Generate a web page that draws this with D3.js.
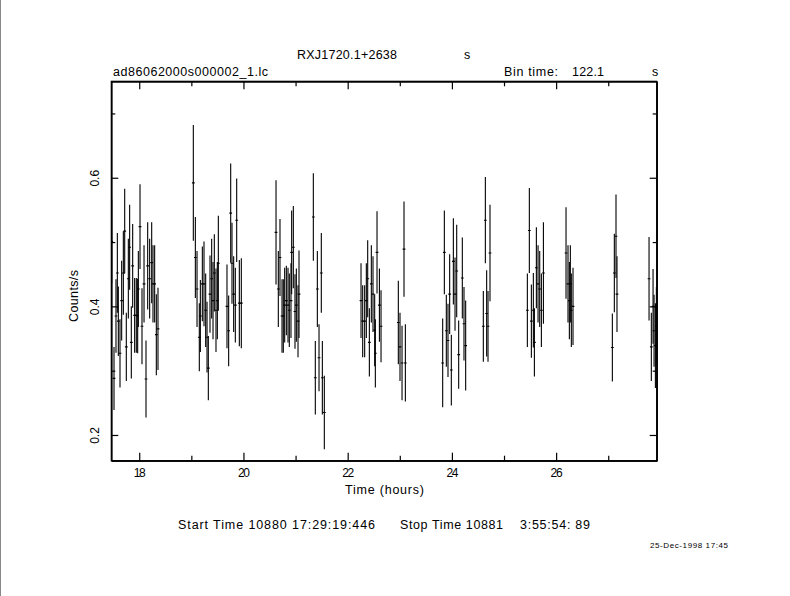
<!DOCTYPE html>
<html><head><meta charset="utf-8">
<script src="https://cdn.jsdelivr.net/npm/d3@7"></script>
<style>
body{margin:0;background:#fff;}
svg text{font-family:"Liberation Sans",Arial,sans-serif;fill:#000;}
</style></head>
<body><svg id="c" width="790" height="596"></svg>
<script>
// ---- data (time in hours, count rate in counts/s, 1-sigma error) ----
const times = [
17.471,17.516,17.554,17.580,17.599,17.631,17.663,17.695,17.721,17.752,17.791,17.816,17.848,17.874,17.912,17.944,17.970,17.983,18.015,18.053,18.092,18.130,18.162,18.200,18.239,18.264,18.296,18.328,18.360,
19.038,19.077,19.109,19.153,19.173,19.211,19.243,19.275,19.301,19.326,19.358,19.390,19.416,19.441,19.473,19.499,19.518,
19.684,19.716,19.755,19.780,19.812,19.844,19.870,19.921,19.959,
20.625,20.669,20.701,20.740,20.765,20.791,20.823,20.855,20.880,20.912,20.925,20.957,20.989,21.015,21.047,21.066,
21.341,21.379,21.418,21.450,21.494,21.514,21.552,
22.256,22.288,22.326,22.358,22.384,22.416,22.454,22.486,22.518,22.531,22.563,22.609,22.640,
22.972,23.004,23.043,23.081,23.107,
23.823,23.855,23.893,23.925,23.957,23.989,24.028,24.060,24.092,24.130,24.200,24.232,24.264,
24.603,24.642,24.667,24.693,24.731,
25.448,25.486,25.525,25.563,25.583,25.621,25.653,25.685,25.717,25.756,
26.190,26.228,26.254,26.273,26.292,26.324,
27.079,27.117,27.149,27.168,
27.783,27.827,27.860,27.879,27.905,27.924];
const rates = [
0.501,0.288,0.385,0.452,0.377,0.327,0.409,0.452,0.517,0.337,0.443,0.492,0.344,0.463,0.386,0.386,0.385,0.427,0.524,0.369,0.435,0.287,0.463,0.443,0.468,0.435,0.435,0.356,0.365,
0.592,0.476,0.427,0.352,0.385,0.435,0.435,0.394,0.352,0.304,0.419,0.443,0.409,0.452,0.394,0.409,0.467,
0.400,0.362,0.545,0.467,0.419,0.402,0.534,0.405,0.405,
0.515,0.427,0.476,0.385,0.385,0.402,0.409,0.402,0.394,0.409,0.484,0.492,0.392,0.402,0.377,0.419,
0.539,0.289,0.427,0.320,0.452,0.289,0.235,
0.409,0.377,0.377,0.409,0.443,0.344,0.435,0.419,0.363,0.327,0.484,0.402,0.369,
0.375,0.337,0.312,0.489,0.312,
0.312,0.484,0.362,0.347,0.419,0.301,0.470,0.419,0.455,0.325,0.444,0.373,0.339,
0.369,0.534,0.389,0.369,0.483,
0.394,0.518,0.377,0.394,0.344,0.460,0.435,0.427,0.394,0.452,
0.483,0.435,0.409,0.435,0.394,0.400,
0.336,0.452,0.509,0.419,
0.443,0.337,0.400,0.362,0.339,0.370];
const errors = [
0.065,0.049,0.057,0.062,0.054,0.053,0.062,0.065,0.066,0.053,0.062,0.066,0.056,0.065,0.058,0.058,0.058,0.059,0.066,0.059,0.060,0.060,0.068,0.062,0.063,0.060,0.060,0.063,0.064,
0.090,0.063,0.059,0.053,0.056,0.058,0.066,0.057,0.055,0.050,0.060,0.062,0.060,0.060,0.065,0.060,0.074,
0.065,0.055,0.077,0.063,0.059,0.058,0.065,0.067,0.070,
0.081,0.059,0.060,0.057,0.057,0.058,0.054,0.058,0.057,0.058,0.065,0.064,0.058,0.057,0.056,0.068,
0.068,0.057,0.059,0.052,0.062,0.057,0.057,
0.058,0.056,0.056,0.058,0.060,0.053,0.060,0.059,0.056,0.053,0.064,0.057,0.056,
0.065,0.053,0.058,0.074,0.060,
0.069,0.065,0.056,0.057,0.062,0.055,0.067,0.057,0.072,0.053,0.063,0.057,0.070,
0.055,0.067,0.067,0.055,0.075,
0.057,0.066,0.057,0.058,0.053,0.063,0.060,0.059,0.057,0.079,
0.071,0.060,0.060,0.060,0.057,0.060,
0.053,0.061,0.065,0.059,
0.065,0.053,0.058,0.056,0.066,0.060];
const xMajorTicks = [18,20,22,24,26];
const xMinorTicks = [19,21,23,25,27];
const yMajorTicks = [0.2,0.4,0.6];
const yMinorTicks = [0.3,0.5,0.7];
const binHours = 122.1/3600;

// ---- layout ----
const svg = d3.select("#c");
const L=111.3, R=656.7, T=81.3, B=460.7;
const x = d3.scaleLinear().domain([17.464,27.93]).range([L,R]);
const y = d3.scaleLinear().domain([0.16,0.75]).range([B,T]);

svg.append("rect").attr("width",790).attr("height",596).attr("fill","#fff");
svg.append("line").attr("x1",0.5).attr("x2",0.5).attr("y1",0).attr("y2",596).attr("stroke","#888");

svg.append("clipPath").attr("id","pc").append("rect").attr("x",L).attr("y",T).attr("width",R-L).attr("height",B-T);

function ax(gen, tr, ticks, size, labels){
  const g = svg.append("g").attr("transform",tr)
    .call(gen.tickValues(ticks).tickSizeInner(-size).tickSizeOuter(0).tickPadding(8)
      .tickFormat(labels? d3.format(".0f"):()=>""));
  g.selectAll("path,line").attr("stroke","#000").attr("stroke-width",1.2);
  g.selectAll("text").style("font-size","12px").attr("textLength",12).attr("lengthAdjust","spacing");
  return g;
}
ax(d3.axisBottom(x), `translate(0,${B})`, xMajorTicks, 8, true);
ax(d3.axisBottom(x), `translate(0,${B})`, xMinorTicks, 5, false);
ax(d3.axisTop(x), `translate(0,${T})`, xMajorTicks, 8, false);
ax(d3.axisTop(x), `translate(0,${T})`, xMinorTicks, 5, false);
const yl = svg.append("g").attr("transform",`translate(${L},0)`)
  .call(d3.axisLeft(y).tickValues(yMajorTicks).tickSizeInner(-7).tickSizeOuter(0).tickFormat(d3.format(".1f")));
yl.selectAll("path,line").attr("stroke","#000").attr("stroke-width",1.2);
yl.selectAll("text").style("font-size","12px").attr("text-anchor","middle").attr("x",0).attr("dy",0)
  .attr("transform","translate(-12,0) rotate(-90)");
const yl2 = svg.append("g").attr("transform",`translate(${L},0)`)
  .call(d3.axisLeft(y).tickValues(yMinorTicks).tickSizeInner(-4).tickSizeOuter(0).tickFormat(()=>""));
yl2.selectAll("path,line").attr("stroke","#000").attr("stroke-width",1.2);
const yr = svg.append("g").attr("transform",`translate(${R},0)`)
  .call(d3.axisRight(y).tickValues(yMajorTicks).tickSizeInner(-7).tickSizeOuter(0).tickFormat(()=>""));
yr.selectAll("path,line").attr("stroke","#000").attr("stroke-width",1.2);
const yr2 = svg.append("g").attr("transform",`translate(${R},0)`)
  .call(d3.axisRight(y).tickValues(yMinorTicks).tickSizeInner(-4).tickSizeOuter(0).tickFormat(()=>""));
yr2.selectAll("path,line").attr("stroke","#000").attr("stroke-width",1.2);
svg.append("rect").attr("x",L).attr("y",T).attr("width",R-L).attr("height",B-T)
  .attr("fill","none").attr("stroke","#000").attr("stroke-width",1.2);

// data
const data = times.map((t,i)=>({t, v:rates[i], e:errors[i]}));
const pg = svg.append("g").attr("clip-path","url(#pc)").attr("stroke","#000").attr("stroke-width",1.1);
pg.selectAll("line.eb").data(data).join("line").attr("class","eb")
  .attr("x1",d=>x(d.t)).attr("x2",d=>x(d.t)).attr("y1",d=>y(d.v-d.e)).attr("y2",d=>y(d.v+d.e));
pg.selectAll("line.bw").data(data).join("line").attr("class","bw")
  .attr("x1",d=>x(d.t-binHours/2)-0.5).attr("x2",d=>x(d.t+binHours/2)+0.5).attr("y1",d=>y(d.v)).attr("y2",d=>y(d.v));

// texts
const txt=(s,xx,yy,len,size)=>{
  const t=svg.append("text").attr("x",xx).attr("y",yy).style("font-size",(size||12.5)+"px").text(s);
  if(len) t.attr("textLength",len).attr("lengthAdjust","spacing");
  return t;
};
txt("RXJ1720.1+2638",297,59,100);
txt("s",464,59);
txt("ad86062000s000002_1.lc",113,76,155);
txt("Bin time:",504,76,54);
txt("122.1",572,76,32);
txt("s",652,76);
txt("Time (hours)",345,494,79);
txt("Start Time 10880 17:29:19:446",178,529,197);
txt("Stop Time 10881",400,529,103);
txt("3:55:54: 89",520,529,70);
txt("25-Dec-1998 17:45",650,548,78,8);
svg.append("text").attr("transform","translate(78,296) rotate(-90)")
  .attr("text-anchor","middle").style("font-size","12.5px").attr("textLength",52).attr("lengthAdjust","spacing").text("Counts/s");
</script></body></html>
